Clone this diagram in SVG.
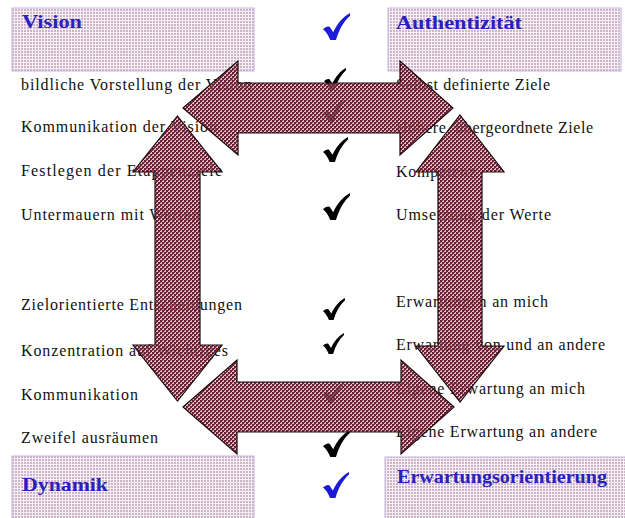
<svg xmlns="http://www.w3.org/2000/svg" xmlns:xlink="http://www.w3.org/1999/xlink" width="625" height="518" viewBox="0 0 625 518">
<style>
.hdr{fill:url(#hpat);stroke:#c4b4e4;stroke-width:1}
.ht{font-family:"Liberation Serif",serif;font-weight:bold;font-size:19px;fill:#2a20c0}
.bt{font-family:"Liberation Serif",serif;font-size:16px;fill:#111}
.arrow-under{fill:#c8939f;fill-opacity:0.6;stroke:none}
.arrow{fill:url(#apat);stroke:#1a0a0e;stroke-width:1.2;stroke-linejoin:miter}
.ck{fill:#000}
.ckb{fill:#1c1ad8}
</style>
<defs>
<pattern id="hpat" patternUnits="userSpaceOnUse" width="3" height="3">
<rect width="3" height="3" fill="#f6f0f6"/>
<rect width="2" height="2" fill="#cdb4c6"/>
</pattern>
<pattern id="apat" patternUnits="userSpaceOnUse" width="4" height="4">
<rect x="0" y="0" width="2" height="2" fill="#6e1f35"/>
<rect x="2" y="2" width="2" height="2" fill="#6e1f35"/>
<rect x="2" y="0" width="1" height="1" fill="#8a344b"/>
<rect x="0" y="2" width="1" height="1" fill="#8a344b"/>
</pattern>
<path id="chk" d="M0,12 C2,10 3.8,9.5 5,10.3 L7.6,14.2 C10.5,8 14.5,3 20,0 L20,2 C15.5,6 12,12 9.6,20 L5.4,20 C4,16.6 2.2,13.6 0,12 Z"/>
</defs>

<g id="box-vision"><rect class="hdr" x="12" y="8" width="242" height="63"/><text class="ht" x="22" y="28" textLength="60" lengthAdjust="spacingAndGlyphs">Vision</text></g>
<g id="box-authentizitaet"><rect class="hdr" x="388" y="8" width="233" height="63"/><text class="ht" x="396" y="29" textLength="126" lengthAdjust="spacingAndGlyphs">Authentizität</text></g>
<g id="box-dynamik"><rect class="hdr" x="12" y="456" width="242" height="66"/><text class="ht" x="22" y="491" textLength="86" lengthAdjust="spacingAndGlyphs">Dynamik</text></g>
<g id="box-erwartung"><rect class="hdr" x="385" y="457" width="244" height="66"/><text class="ht" x="397" y="483" textLength="210" lengthAdjust="spacingAndGlyphs">Erwartungsorientierung</text></g>

<g id="left-items">
<text class="bt" x="21" y="90" textLength="231" lengthAdjust="spacing">bildliche Vorstellung der Vision</text>
<text class="bt" x="21" y="132" textLength="196" lengthAdjust="spacing">Kommunikation der Vision</text>
<text class="bt" x="21" y="176" textLength="201" lengthAdjust="spacing">Festlegen der Etappenziele</text>
<text class="bt" x="21" y="220" textLength="179" lengthAdjust="spacing">Untermauern mit Werten</text>
<text class="bt" x="21" y="310" textLength="221" lengthAdjust="spacing">Zielorientierte Entscheidungen</text>
<text class="bt" x="21" y="356" textLength="207" lengthAdjust="spacing">Konzentration auf Wichtiges</text>
<text class="bt" x="21" y="400" textLength="117" lengthAdjust="spacing">Kommunikation</text>
<text class="bt" x="21" y="443" textLength="137" lengthAdjust="spacing">Zweifel ausräumen</text>
</g>
<g id="right-items">
<text class="bt" x="396" y="90" textLength="154" lengthAdjust="spacing">Selbst definierte Ziele</text>
<text class="bt" x="396" y="133" textLength="197" lengthAdjust="spacing">Höhere, übergeordnete Ziele</text>
<text class="bt" x="396" y="177" textLength="80" lengthAdjust="spacing">Kompetenz</text>
<text class="bt" x="396" y="220" textLength="155" lengthAdjust="spacing">Umsetzung der Werte</text>
<text class="bt" x="396" y="307" textLength="152" lengthAdjust="spacing">Erwartungen an mich</text>
<text class="bt" x="396" y="350" textLength="209" lengthAdjust="spacing">Erwartung von und an andere</text>
<text class="bt" x="396" y="394" textLength="189" lengthAdjust="spacing">Eigene Erwartung an mich</text>
<text class="bt" x="396" y="437" textLength="201" lengthAdjust="spacing">Eigene Erwartung an andere</text>
</g>
<g id="checks">
<use href="#chk" class="ckb" transform="translate(323,13) scale(1.35)"/>
<use href="#chk" class="ck" transform="translate(324,68) scale(1.1)"/>
<use href="#chk" class="ck" transform="translate(323,100) scale(1.1)"/>
<use href="#chk" class="ck" transform="translate(323,137) scale(1.25)"/>
<use href="#chk" class="ck" transform="translate(323,193) scale(1.35)"/>
<use href="#chk" class="ck" transform="translate(323,298) scale(1.1)"/>
<use href="#chk" class="ck" transform="translate(323,333) scale(1.05)"/>
<use href="#chk" class="ck" transform="translate(323,382) scale(1.05)"/>
<use href="#chk" class="ck" transform="translate(323,430) scale(1.35)"/>
<use href="#chk" class="ckb" transform="translate(323,472) scale(1.3)"/>
</g>
<g id="connectors">
<path id="arrow-top" class="arrow-under" d="M183,108 L238,61 L238,83 L400,83 L400,61 L453,108 L400,155 L400,133 L238,133 L238,155 Z"/>
<path class="arrow" d="M183,108 L238,61 L238,83 L400,83 L400,61 L453,108 L400,155 L400,133 L238,133 L238,155 Z"/>
<path id="arrow-bottom" class="arrow-under" d="M183,407 L237,360 L237,382 L401,382 L401,360 L454,407 L401,454 L401,432 L237,432 L237,454 Z"/>
<path class="arrow" d="M183,407 L237,360 L237,382 L401,382 L401,360 L454,407 L401,454 L401,432 L237,432 L237,454 Z"/>
<path id="arrow-left" class="arrow-under" d="M177.5,116 L222,172 L200,172 L200,345 L222,345 L177.5,401 L133,345 L155,345 L155,172 L133,172 Z"/>
<path class="arrow" d="M177.5,116 L222,172 L200,172 L200,345 L222,345 L177.5,401 L133,345 L155,345 L155,172 L133,172 Z"/>
<path id="arrow-right" class="arrow-under" d="M460,115 L504,172 L482,172 L482,346 L504,346 L460,402 L416,346 L438,346 L438,172 L416,172 Z"/>
<path class="arrow" d="M460,115 L504,172 L482,172 L482,346 L504,346 L460,402 L416,346 L438,346 L438,172 L416,172 Z"/>
</g>
</svg>
